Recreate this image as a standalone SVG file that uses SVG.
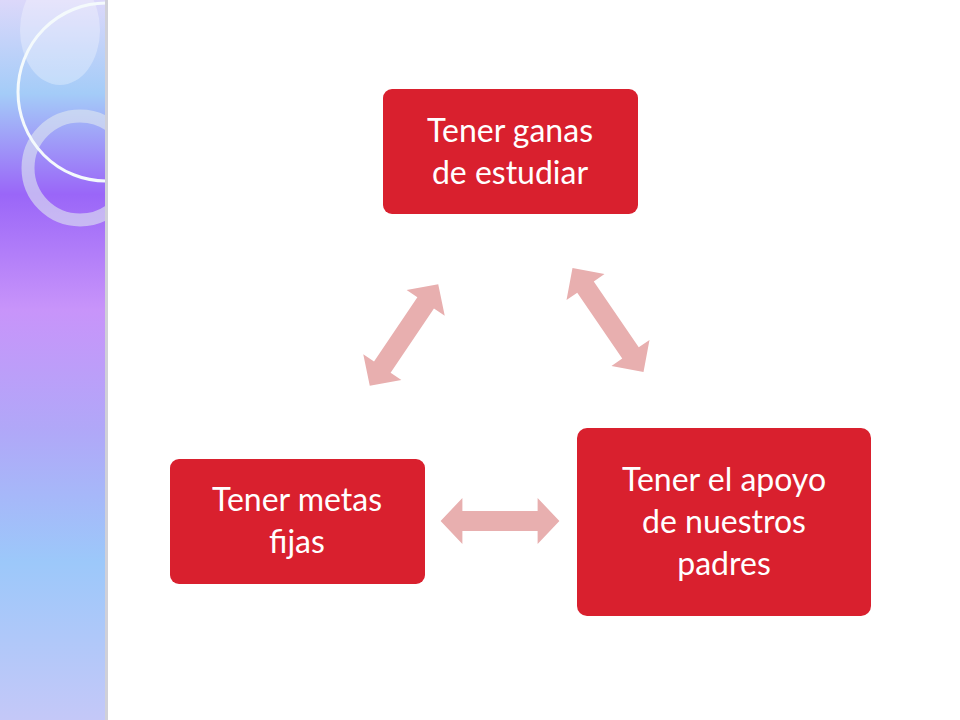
<svg xmlns="http://www.w3.org/2000/svg" width="960" height="720" viewBox="0 0 960 720">
<defs>
<linearGradient id="side" x1="0" y1="0" x2="0" y2="1">
<stop offset="0" stop-color="#dcd8fa"/>
<stop offset="0.13" stop-color="#a4ccf8"/>
<stop offset="0.27" stop-color="#9a66f8"/>
<stop offset="0.43" stop-color="#c894fa"/>
<stop offset="0.6" stop-color="#b0a8f8"/>
<stop offset="0.78" stop-color="#9cc8fa"/>
<stop offset="1" stop-color="#c4c8f8"/>
</linearGradient>
<clipPath id="sc"><rect x="0" y="0" width="106" height="720"/></clipPath>
<path id="dbl" d="M-60,0 L-38,-23 L-38,-10 L38,-10 L38,-23 L60,0 L38,23 L38,10 L-38,10 L-38,23 Z"/>
</defs>
<style>
.box{fill:#d9202e}
.t{fill:#fff;font-family:Lato,"Open Sans",sans-serif;font-size:32px;text-anchor:middle}
.arr{fill:#e8afaf}
</style>
<g id="sidebar">
<rect x="0" y="0" width="106" height="720" fill="url(#side)"/>
<g clip-path="url(#sc)">
<ellipse cx="60" cy="30" rx="40" ry="55" fill="#fff" opacity="0.3"/>
<circle cx="80" cy="168" r="52" fill="none" stroke="#dfe8f0" stroke-opacity="0.6" stroke-width="13"/>
<ellipse cx="106" cy="92" rx="88" ry="89" fill="none" stroke="#f4fafc" stroke-width="3"/>
</g>
<rect x="105" y="0" width="3" height="720" fill="#d0d0d8"/>
</g>
<g id="connectors">
<use href="#dbl" class="arr" transform="translate(500,521) scale(0.99,1)"/>
<use href="#dbl" class="arr" transform="translate(404,335) rotate(-56) scale(1.02,1)"/>
<use href="#dbl" class="arr" transform="translate(608,320) rotate(55.7) scale(1.05,1)"/>
</g>
<g id="n1"><rect class="box" x="383" y="89" width="255" height="125" rx="9"/>
<text class="t" x="510" y="142">Tener ganas</text><text class="t" x="510" y="184">de estudiar</text></g>
<g id="n2"><rect class="box" x="577" y="428" width="294" height="188" rx="10"/>
<text class="t" x="724" y="491">Tener el apoyo</text><text class="t" x="724" y="533">de nuestros</text><text class="t" x="724" y="575">padres</text></g>
<g id="n3"><rect class="box" x="170" y="459" width="255" height="125" rx="9"/>
<text class="t" x="297" y="511">Tener metas</text><text class="t" x="297" y="553">fijas</text></g>
</svg>
